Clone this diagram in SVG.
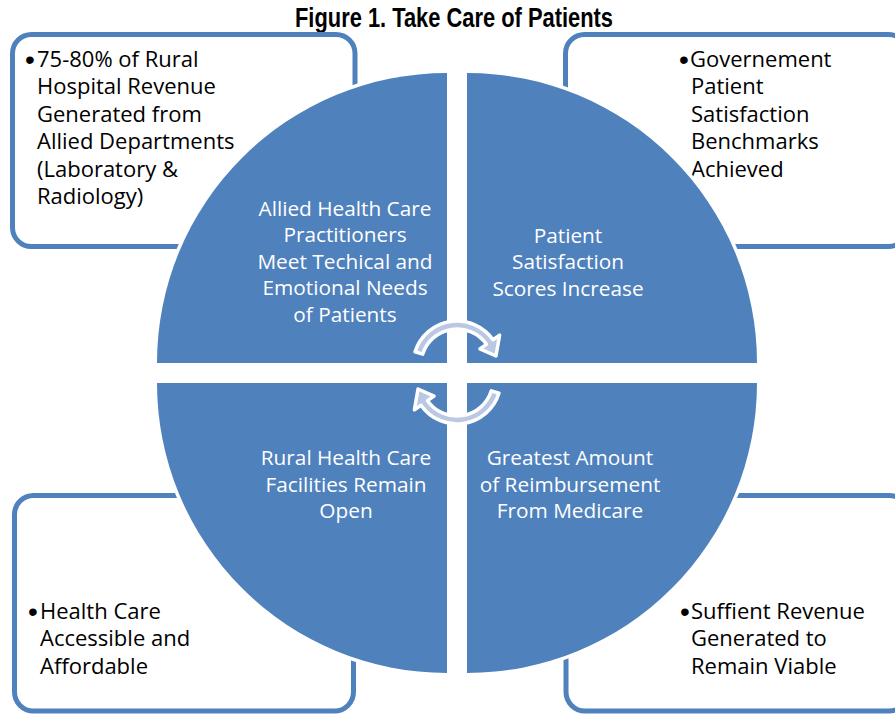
<svg xmlns="http://www.w3.org/2000/svg" width="895" height="714" viewBox="0 0 895 714">
<style>
.box{fill:#ffffff;stroke:#4F81BD;stroke-width:5}
.q{fill:#4F81BD;stroke:#ffffff;stroke-width:7;paint-order:stroke}
.qt{font-family:"Open Sans",Lato,sans-serif;font-size:20.8px;fill:#ffffff;text-anchor:middle}
.bt{font-family:"Open Sans",Lato,sans-serif;font-size:22px;fill:#000000}
.bul{font-family:"Liberation Sans",Arial,sans-serif;font-size:28px;fill:#000000}
.arr{fill:#BAC8E3;stroke:#ffffff;stroke-width:3.5;stroke-linejoin:round}
.title{font-family:"Liberation Sans",Arial,sans-serif;font-weight:bold;font-size:27px;fill:#000000;text-anchor:middle}
</style>
<rect width="895" height="714" fill="#ffffff"/>
<text class="title" x="454" y="27" textLength="318" lengthAdjust="spacingAndGlyphs">Figure 1. Take Care of Patients</text>

<g id="box-tl">
<rect class="box" x="12.5" y="34.5" width="342.5" height="212" rx="19"/>
<text class="bul" x="25" y="68.5">•</text>
<text class="bt"><tspan x="37" y="66.5">75-80% of Rural</tspan><tspan x="37" y="94">Hospital Revenue</tspan><tspan x="37" y="121.5">Generated from</tspan><tspan x="37" y="149">Allied Departments</tspan><tspan x="37" y="176.5">(Laboratory &amp;</tspan><tspan x="37" y="204">Radiology)</tspan></text>
</g>
<g id="box-tr">
<rect class="box" x="565.5" y="34.5" width="342" height="212" rx="19"/>
<text class="bul" x="679" y="68.5">•</text>
<text class="bt"><tspan x="690" y="66.5">Governement</tspan><tspan x="691" y="94">Patient</tspan><tspan x="691" y="121.5">Satisfaction</tspan><tspan x="691" y="149">Benchmarks</tspan><tspan x="691" y="176.5">Achieved</tspan></text>
</g>
<g id="box-bl">
<rect class="box" x="14.5" y="495.5" width="339" height="215.5" rx="19"/>
<text class="bul" x="28" y="620.5">•</text>
<text class="bt"><tspan x="40" y="618.5">Health Care</tspan><tspan x="40" y="646">Accessible and</tspan><tspan x="40" y="673.5">Affordable</tspan></text>
</g>
<g id="box-br">
<rect class="box" x="566" y="495.5" width="342" height="215.5" rx="19"/>
<text class="bul" x="680" y="620.5">•</text>
<text class="bt"><tspan x="691" y="618.5">Suffient Revenue</tspan><tspan x="691" y="646">Generated to</tspan><tspan x="691" y="673.5">Remain Viable</tspan></text>
</g>

<g id="q-tl">
<path class="q" d="M447,363 H157 A290,290 0 0 1 447,73 Z"/>
<text class="qt"><tspan x="345" y="215.5">Allied Health Care</tspan><tspan x="345" y="242">Practitioners</tspan><tspan x="345" y="268.5">Meet Techical and</tspan><tspan x="345" y="295">Emotional Needs</tspan><tspan x="345" y="321.5">of Patients</tspan></text>
</g>
<g id="q-tr">
<path class="q" d="M467,363 V73 A290,290 0 0 1 757,363 Z"/>
<text class="qt"><tspan x="568" y="242.5">Patient</tspan><tspan x="568" y="269">Satisfaction</tspan><tspan x="568" y="295.5">Scores Increase</tspan></text>
</g>
<g id="q-bl">
<path class="q" d="M447,383 V673 A290,290 0 0 1 157,383 Z"/>
<text class="qt"><tspan x="346" y="465">Rural Health Care</tspan><tspan x="346" y="491.5">Facilities Remain</tspan><tspan x="346" y="518">Open</tspan></text>
</g>
<g id="q-br">
<path class="q" d="M467,383 H757 A290,290 0 0 1 467,673 Z"/>
<text class="qt"><tspan x="570" y="465">Greatest Amount</tspan><tspan x="570" y="491.5">of Reimbursement</tspan><tspan x="570" y="518">From Medicare</tspan></text>
</g>

<g id="connectors">
<path id="arrow-top" class="arr" d="M415.04,351.77 A44,44 0 0 1 493.04,339.76 L499.6,335.17 L495.97,356 L479.94,348.94 L486.49,344.35 A36,36 0 0 0 422.67,354.17 Z"/>
<path id="arrow-bottom" class="arr" transform="rotate(180 457 372.5)" d="M415.04,351.77 A44,44 0 0 1 493.04,339.76 L499.6,335.17 L495.97,356 L479.94,348.94 L486.49,344.35 A36,36 0 0 0 422.67,354.17 Z"/>
</g>
</svg>
